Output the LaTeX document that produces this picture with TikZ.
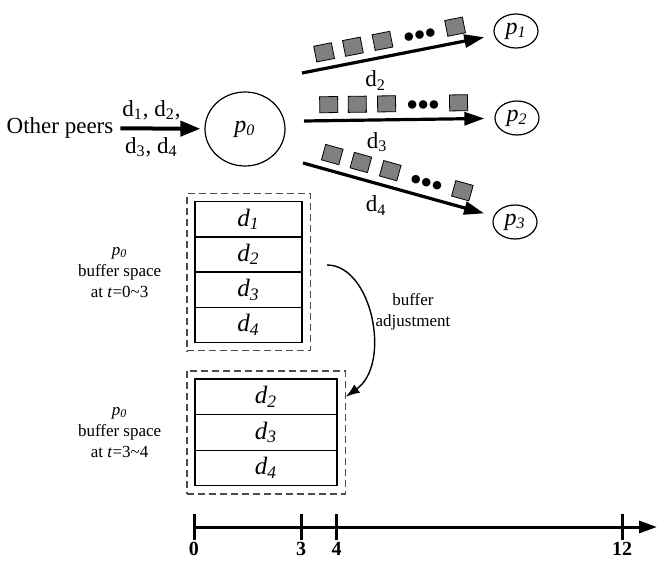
\documentclass[tikz,border=0pt]{standalone}
\usepackage{fontspec}
\setmainfont{Liberation Serif}
\usetikzlibrary{arrows.meta, positioning, shapes.geometric, fit}

\newcommand{\itsub}[2]{\textit{#1}\textsubscript{\textit{#2}}}
\newcommand{\upsub}[2]{#1\textsubscript{#2}}
\definecolor{pktgray}{RGB}{128,128,128}

\begin{document}
\begin{tikzpicture}[x=0.5pt, y=0.5pt,
        peer/.style={draw, ellipse, line width=0.6pt, inner sep=0pt, font=\fontsize{12}{14}\selectfont},
        feed/.style={line width=2pt, -{Triangle[length=10pt, width=7.5pt]}, shorten >=2pt},
        flow/.style={line width=1.6pt, -{Triangle[length=10pt, width=6.5pt]}, shorten >=5pt},
        pkt/.style={draw, fill=pktgray, line width=0.4pt, minimum width=9pt, minimum height=8pt,
            inner sep=0pt, sloped, anchor=south, outer ysep=4pt},
        dots/.style={sloped, anchor=south, inner sep=0pt, outer ysep=4.5pt, font=\fontsize{11}{12}\selectfont},
        cell/.style={draw, line width=0.6pt, minimum height=17.75pt, inner sep=0pt, font=\fontsize{12.5}{14}\selectfont},
        bufframe/.style={draw=black!70, dash pattern=on 3.5pt off 2pt, line width=0.6pt, inner sep=3.75pt},
        note/.style={align=center, font=\fontsize{8.5}{10.5}\selectfont},
        adjust/.style={line width=0.7pt, -{Latex[length=7pt, width=5pt]}},
        tick/.style={line width=1.5pt}
    ]
        \useasboundingbox (0,0) rectangle (666,564);

        % Source and peers
        \node[font=\fontsize{11.5}{13}\selectfont] (others) at (60,436) {Other peers};
        \node[peer, minimum width=40pt, minimum height=37pt] (p0) at (245,435) {\itsub{p}{0}};
        \node[peer, minimum width=22pt, minimum height=17pt] (p1) at (516,533) {\itsub{p}{1}};
        \node[peer, minimum width=22pt, minimum height=17pt] (p2) at (517,446) {\itsub{p}{2}};
        \node[peer, minimum width=22pt, minimum height=17pt] (p3) at (515,342) {\itsub{p}{3}};

        \draw[feed] (others) -- (p0)
            node[pos=0.37, above, font=\fontsize{11.5}{13}\selectfont] {\upsub{d}{1}, \upsub{d}{2},}
            node[pos=0.37, below, font=\fontsize{11.5}{13}\selectfont] {\upsub{d}{3}, \upsub{d}{4}};

        % Outgoing streams with packets
        \coordinate (s1) at (302,491);
        \coordinate (s2) at (304,443);
        \coordinate (s3) at (303,401);
        \foreach \src/\dst/\k in {s1/p1/2, s2/p2/3, s3/p3/4} {
            \draw[flow] (\src) -- (\dst)
                foreach \t in {0.131,0.281,0.435,0.813} {node[pkt, pos=\t] {}}
                node[dots, pos=0.627] {${\bullet}{\bullet}{\bullet}$}
                node[pos=0.384, below=2pt, font=\fontsize{11.5}{13}\selectfont] {\upsub{d}{\k}};
        }

        % Buffer at t=0~3
        \foreach \k [count=\r] in {1,2,3,4}
            \node[cell, minimum width=53.5pt] (a\k) at (248.5,380-35.25*\r) {\itsub{d}{\k}};
        \node[bufframe, fit=(a1)(a4)] (buf1) {};
        \node[note, left=9pt of buf1] (lab1) {\itsub{p}{0}\\buffer space\\at \textit{t}=0\textasciitilde 3};

        % Buffer at t=3~4
        \foreach \k [count=\r] in {2,3,4}
            \node[cell, minimum width=71pt] (b\k) at (266,202.9-35.67*\r) {\itsub{d}{\k}};
        \node[bufframe, fit=(b2)(b4)] (buf2) {};
        \node[note, left=9pt of buf2] (lab2) {\itsub{p}{0}\\buffer space\\at \textit{t}=3\textasciitilde 4};

        % Adjustment
        \coordinate (bend) at (327,299);
        \draw[adjust] (bend) .. controls (372,299) and (392,200) .. (buf2.east |- b2);
        \node[note] (adjlbl) at (413,252) {buffer\\adjustment};

        % Time axis
        \draw[line width=1.5pt, -{Triangle[length=9pt, width=6pt]}] (194,37) -- (657,37);
        \foreach \v in {0,3,4,12} {
            \pgfmathsetmacro{\tx}{194+35.67*\v}
            \draw[tick] (\tx,50) -- (\tx,24)
                node[below=0pt, inner sep=0.5pt, font=\bfseries\fontsize{10}{11}\selectfont] {\v};
        }
    \end{tikzpicture}
\end{document}
